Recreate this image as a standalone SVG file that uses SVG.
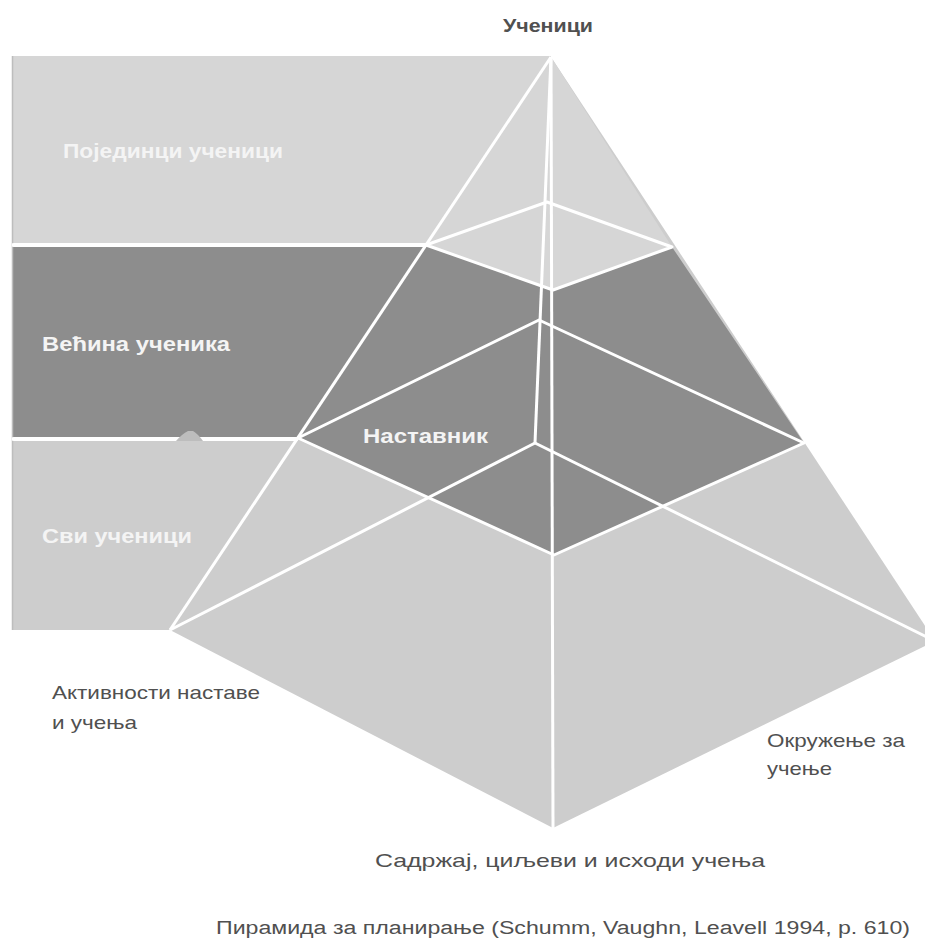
<svg xmlns="http://www.w3.org/2000/svg" width="925" height="941" viewBox="0 0 925 941">
<style>
  .light { fill: #d6d6d6; }
  .light2 { fill: #cdcdcd; }
  .dark { fill: #8d8d8d; }
  .edge { stroke: #ffffff; stroke-width: 3; fill: none; stroke-linejoin: round; }
  .inner { font-family: "Liberation Sans", Arial, sans-serif; font-weight: bold; fill: #f4f4f4; }
  .outer { font-family: "Liberation Sans", Arial, sans-serif; fill: #505050; }
</style>
<rect width="925" height="941" fill="#ffffff"/>

<g id="band-individual">
  <rect class="light" x="12" y="56" width="539" height="187"/>
</g>
<g id="band-most">
  <rect class="dark" x="12" y="247" width="420" height="190"/>
</g>
<g id="band-all">
  <rect class="light2" x="12" y="441" width="290" height="189"/>
  <path d="M176,441 Q182,434 188,431 L193,431 Q198,434 203,441 Z" fill="#bdbdbd"/>
</g>
<line x1="12.5" y1="56" x2="12.5" y2="630" stroke="#bdbdbd" stroke-width="1.5"/>

<g id="pyramid">
  <polygon class="light2" points="551,57 170,630 553,828 935,641"/>
  <polygon class="light" points="551,57 426,245 553,290 672,247"/>
  <polygon class="dark" points="426,245 553,290 672,247 804,443 554,555 298,438"/>
</g>

<g id="connectors">
  <line class="edge" x1="551" y1="57" x2="170" y2="630"/>
  <line class="edge" x1="551" y1="57" x2="553" y2="828"/>
  <line class="edge" x1="551" y1="57" x2="535" y2="443"/>
  <line class="edge" x1="535" y1="443" x2="170" y2="630"/>
  <line class="edge" x1="535" y1="443" x2="935" y2="641"/>
  <polygon class="edge" points="426,245 547,202 672,247 553,290"/>
  <polygon class="edge" points="298,438 539,320 804,443 554,555"/>
  <line x1="12" y1="245" x2="426" y2="245" stroke="#ffffff" stroke-width="3.5"/>
  <line x1="12" y1="439" x2="176" y2="439" stroke="#ffffff" stroke-width="3.5"/>
  <line x1="203" y1="439" x2="298" y2="439" stroke="#ffffff" stroke-width="3.5"/>
</g>

<g id="labels">
  <text class="outer" x="503" y="32" font-size="18" font-weight="bold" fill="#3c3c3c" textLength="90" lengthAdjust="spacingAndGlyphs">Ученици</text>
  <text class="inner" x="63" y="158" font-size="20" textLength="220" lengthAdjust="spacingAndGlyphs">Појединци ученици</text>
  <text class="inner" x="42" y="351" font-size="20" textLength="188" lengthAdjust="spacingAndGlyphs">Већина ученика</text>
  <text class="inner" x="363" y="443" font-size="21" textLength="125" lengthAdjust="spacingAndGlyphs">Наставник</text>
  <text class="inner" x="42" y="543" font-size="20" textLength="150" lengthAdjust="spacingAndGlyphs">Сви ученици</text>
  <text class="outer" x="52" y="699" font-size="19" textLength="208" lengthAdjust="spacingAndGlyphs">Активности наставе</text>
  <text class="outer" x="52" y="729" font-size="19" textLength="85" lengthAdjust="spacingAndGlyphs">и учења</text>
  <text class="outer" x="767" y="747" font-size="19" textLength="138" lengthAdjust="spacingAndGlyphs">Окружење за</text>
  <text class="outer" x="767" y="775" font-size="19" textLength="65" lengthAdjust="spacingAndGlyphs">учење</text>
  <text class="outer" x="375" y="867" font-size="19" fill="#444444" textLength="390" lengthAdjust="spacingAndGlyphs">Садржај, циљеви и исходи учења</text>
  <text class="outer" x="216" y="934" font-size="18" fill="#444444" textLength="694" lengthAdjust="spacingAndGlyphs">Пирамида за планирање  (Schumm, Vaughn, Leavell 1994, p. 610)</text>
</g>
</svg>
